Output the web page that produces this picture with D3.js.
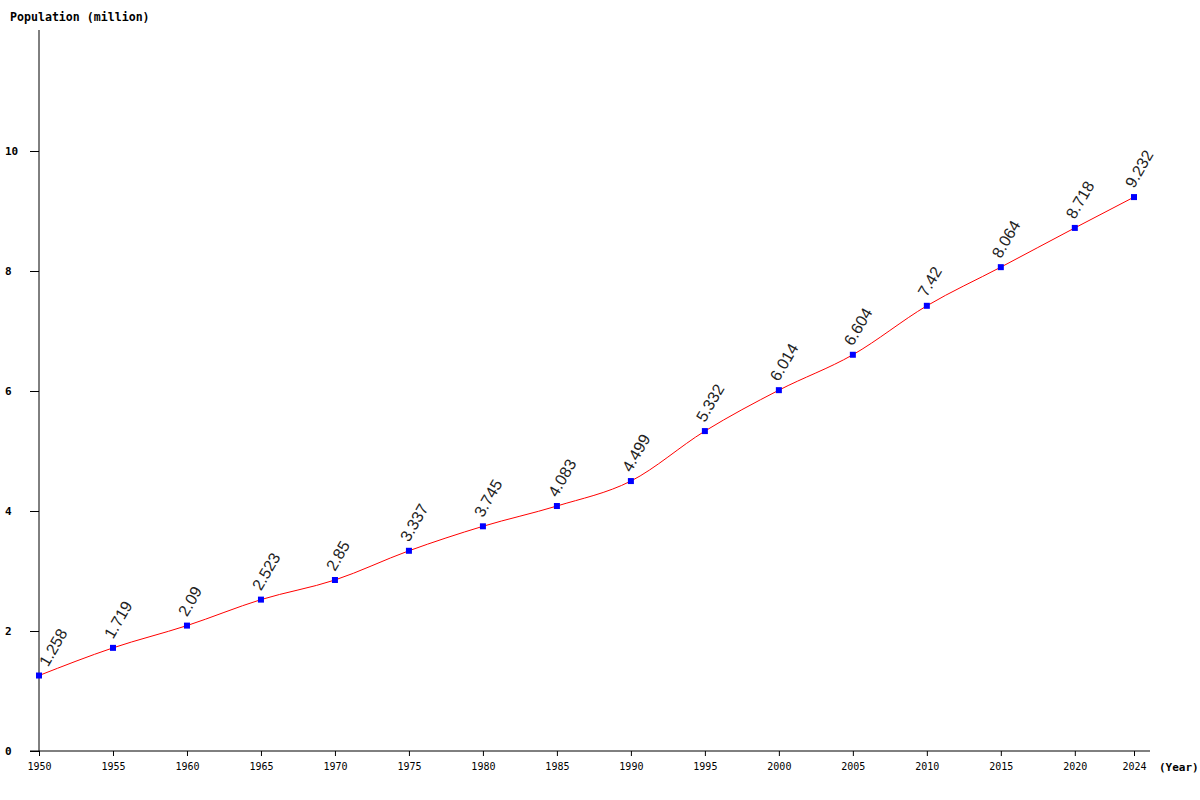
<!DOCTYPE html>
<html>
<head>
<meta charset="utf-8">
<script src="https://cdn.jsdelivr.net/npm/d3@7"></script>
<style>
  body { margin: 0; background: #fff; }
  svg { display: block; }
</style>
</head>
<body>
<svg id="chart" width="1200" height="800"></svg>
<script>
// population values (million)
const years = [1950, 1955, 1960, 1965, 1970, 1975, 1980, 1985, 1990, 1995, 2000, 2005, 2010, 2015, 2020, 2024];
const population = [1.258, 1.719, 2.09, 2.523, 2.85, 3.337, 3.745, 4.083, 4.499, 5.332, 6.014, 6.604, 7.42, 8.064, 8.718, 9.232];
const yTicks = [0, 2, 4, 6, 8, 10];

const data = years.map((y, i) => ({year: y, value: population[i]}));

let svg = d3.select("#chart");

let x = d3.scaleLinear().domain([1950, 2024]).range([39, 1134]);
let y = d3.scaleLinear().domain([0, 12]).range([751, 31]);

const monoFont = "'DejaVu Sans Mono', 'Liberation Mono', monospace";

// y axis
let yAxis = svg.append("g")
    .attr("transform", "translate(39,0)")
    .call(d3.axisLeft(y).tickValues(yTicks).tickSize(9).tickFormat(d3.format("d")));
yAxis.select(".domain").attr("d", "M0,30V751");
yAxis.selectAll("text")
    .attr("font-family", monoFont)
    .attr("font-size", 11)
    .attr("font-weight", "bold")
    .attr("x", -34)
    .attr("text-anchor", "start");

// x axis
let xAxis = svg.append("g")
    .attr("transform", "translate(0,751)")
    .call(d3.axisBottom(x).tickValues(years).tickSize(5).tickFormat(d3.format("d")));
xAxis.select(".domain").attr("d", "M30,0H1150");
xAxis.selectAll("text")
    .attr("font-family", monoFont)
    .attr("font-size", 10)
    .attr("font-weight", "normal")
    .attr("y", 12);

svg.selectAll(".domain, .tick line").attr("stroke", "#000");

svg.append("text")
    .attr("x", 10).attr("y", 21)
    .attr("font-family", monoFont)
    .attr("font-size", 11.6)
    .attr("font-weight", "bold")
    .text("Population (million)");

svg.append("text")
    .attr("x", 1159).attr("y", 771)
    .attr("font-family", monoFont)
    .attr("font-size", 11)
    .attr("font-weight", "bold")
    .text("(Year)");

// line
let line = d3.line()
    .x(d => x(d.year))
    .y(d => y(d.value))
    .curve(d3.curveMonotoneX);

svg.append("path")
    .datum(data)
    .attr("fill", "none")
    .attr("stroke", "red")
    .attr("stroke-width", 1)
    .attr("d", line);

// markers
svg.selectAll(".pt")
    .data(data)
    .enter().append("rect")
    .attr("class", "pt")
    .attr("x", d => x(d.year) - 3)
    .attr("y", d => y(d.value) - 3)
    .attr("width", 6)
    .attr("height", 6)
    .attr("fill", "blue");

// value labels, nudged right when they'd cross the y axis
svg.selectAll(".lbl")
    .data(data)
    .enter().append("text")
    .attr("class", "lbl")
    .attr("transform", d => {
        let px = x(d.year);
        let dx = Math.max(0, x.range()[0] + 9 - px);
        return `translate(${px + dx},${y(d.value) - 8}) rotate(-60)`;
    })
    .attr("font-family", "'Liberation Sans', Arial, sans-serif")
    .attr("font-size", 16)
    .attr("fill", "#222")
    .text(d => String(d.value));
</script>
</body>
</html>
